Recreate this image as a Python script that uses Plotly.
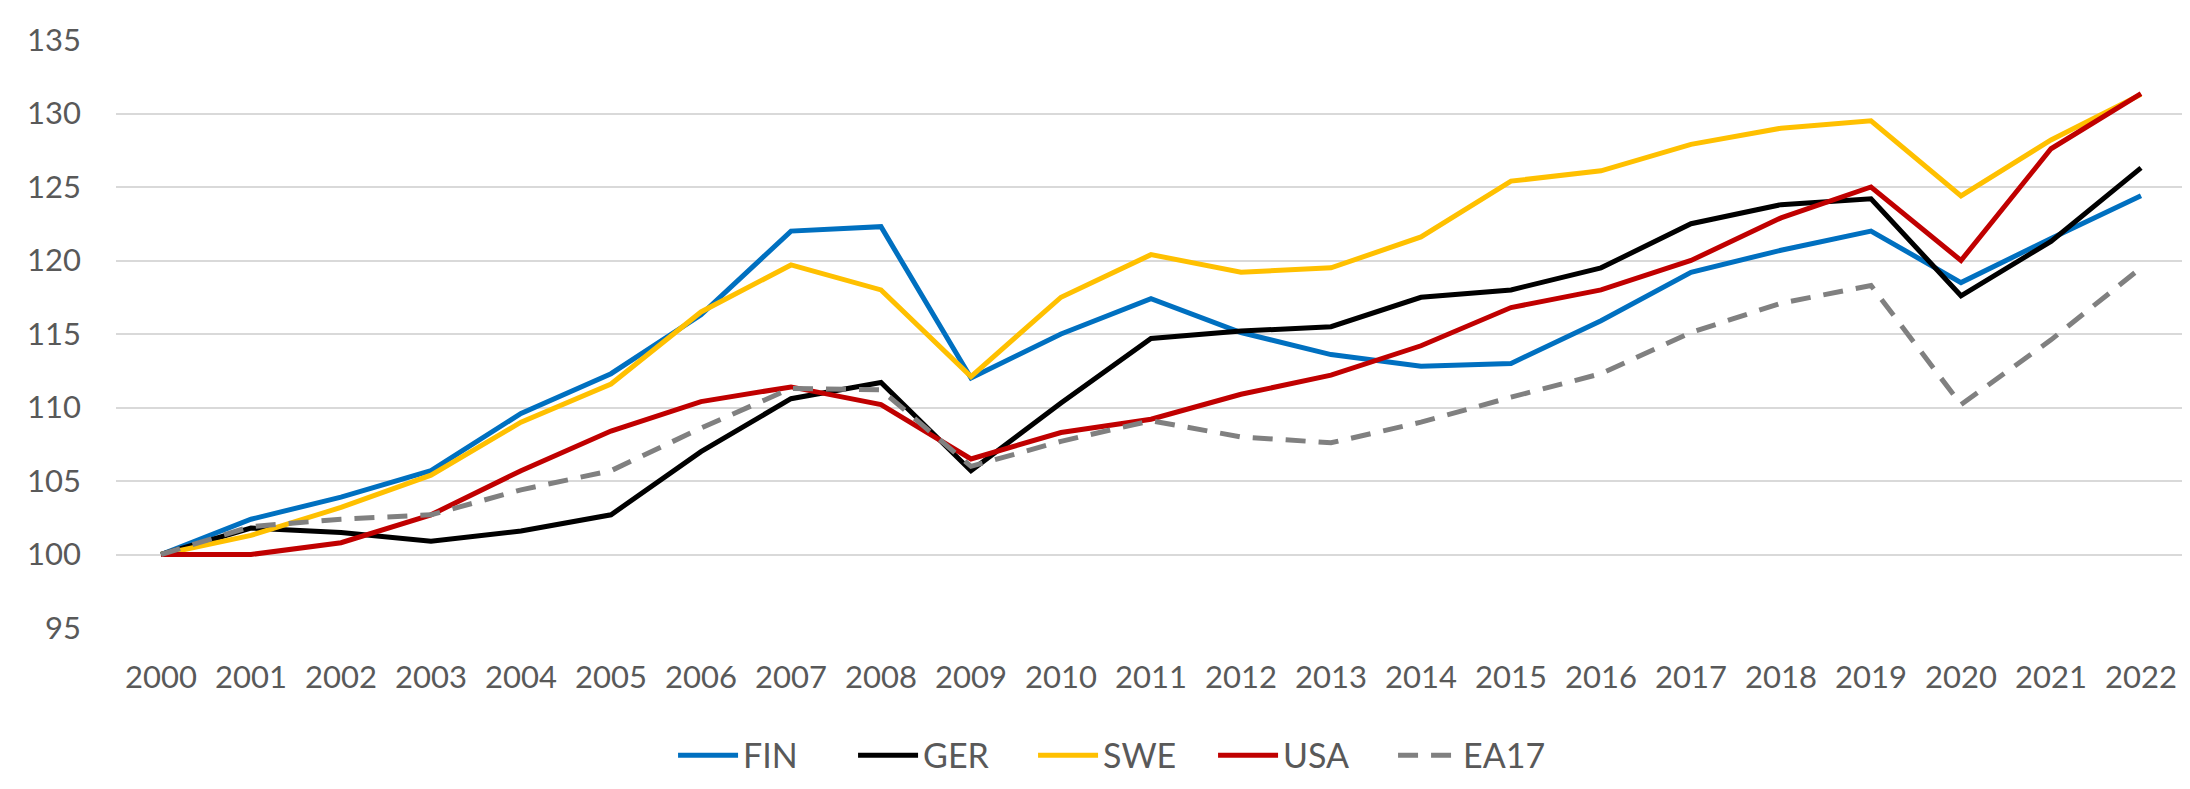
import plotly.graph_objects as go

years = [str(y) for y in range(2000, 2023)]
FIN = [100, 102.4, 103.9, 105.7, 109.6, 112.3, 116.3, 122.0, 122.3, 112.0, 115.0, 117.4, 115.1, 113.6, 112.8, 113.0, 115.9, 119.2, 120.7, 122.0, 118.5, 121.5, 124.4]
GER = [100, 101.8, 101.5, 100.9, 101.6, 102.7, 107.0, 110.6, 111.7, 105.7, 110.3, 114.7, 115.2, 115.5, 117.5, 118.0, 119.5, 122.5, 123.8, 124.2, 117.6, 121.3, 126.3]
SWE = [100, 101.3, 103.2, 105.4, 109.0, 111.6, 116.5, 119.7, 118.0, 112.1, 117.5, 120.4, 119.2, 119.5, 121.6, 125.4, 126.1, 127.9, 129.0, 129.5, 124.4, 128.2, 131.3]
USA = [100, 100.0, 100.8, 102.7, 105.7, 108.4, 110.4, 111.4, 110.2, 106.5, 108.3, 109.2, 110.9, 112.2, 114.2, 116.8, 118.0, 120.0, 122.9, 125.0, 120.0, 127.6, 131.35]
EA17 = [100, 101.9, 102.4, 102.7, 104.4, 105.7, 108.6, 111.3, 111.2, 106.0, 107.7, 109.1, 108.0, 107.6, 109.0, 110.7, 112.3, 115.1, 117.1, 118.3, 110.2, 114.6, 119.5]

series = [
    ("FIN", FIN, "#0070C0", "solid"),
    ("GER", GER, "#000000", "solid"),
    ("SWE", SWE, "#FFC000", "solid"),
    ("USA", USA, "#C00000", "solid"),
    ("EA17", EA17, "#808080", "20px,13px"),
]

fig = go.Figure()
for name, vals, color, dash in series:
    fig.add_trace(go.Scatter(
        x=years, y=vals, name=name, mode="lines",
        line=dict(color=color, width=5, dash=dash),
        hoverinfo="skip",
    ))

font_family = "Lato, 'Open Sans', 'Liberation Sans', sans-serif"
fig.update_layout(
    width=2190, height=789,
    margin=dict(l=108, r=12, t=24, b=150),
    paper_bgcolor="white", plot_bgcolor="white",
    font=dict(family=font_family, color="#595959", size=31),
    showlegend=True,
    legend=dict(
        orientation="h", x=0.4865, xanchor="center", y=-0.217, yanchor="middle",
        yref="paper", font=dict(size=34, color="#595959"),
        itemwidth=60, tracegroupgap=0,
        entrywidth=105, entrywidthmode="pixels",
    ),
    xaxis=dict(
        type="category", range=[-0.5, 22.5],
        showgrid=False, zeroline=False, showline=False,
        ticks="", tickfont=dict(size=31, color="#595959"),
        ticklabelstandoff=28,
    ),
    yaxis=dict(
        range=[95, 135], dtick=5, tick0=95,
        showgrid=True, gridcolor="#D9D9D9", gridwidth=2,
        zeroline=False, showline=False, ticks="",
        tickfont=dict(size=31, color="#595959"),
        ticklabelstandoff=34,
    ),
)

fig.write_html("out.html")
